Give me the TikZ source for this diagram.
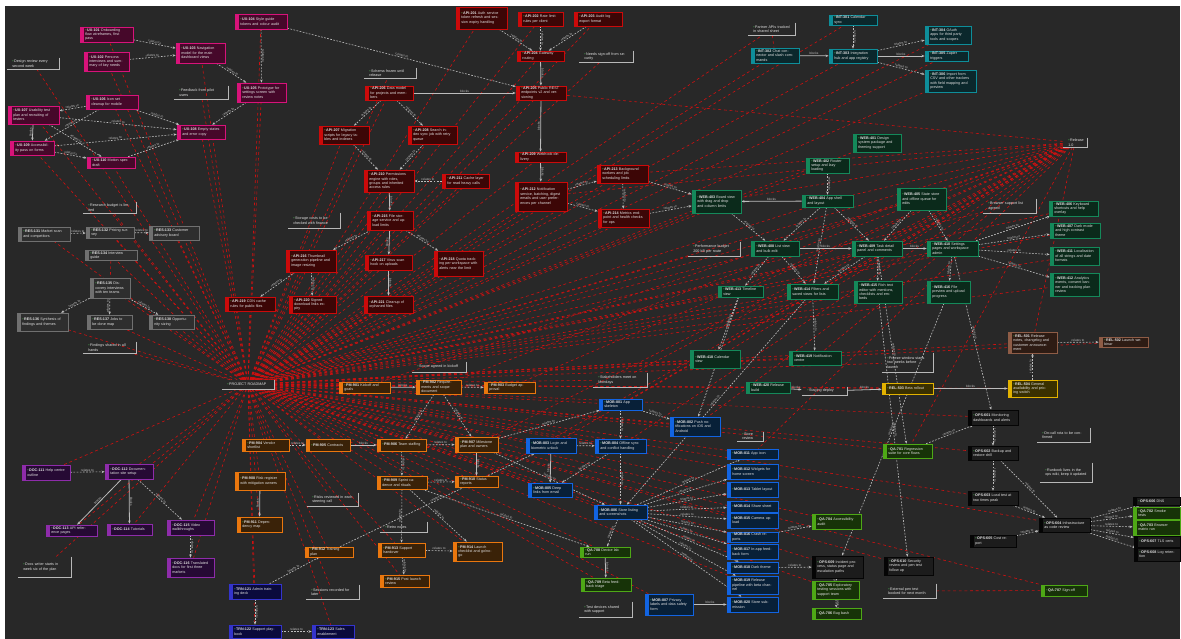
\documentclass[tikz,border=0pt]{standalone}
\usepackage{fontspec}
\setmainfont{Liberation Sans}
\usetikzlibrary{arrows.meta}

\definecolor{canvas}{HTML}{282828}
\definecolor{txt}{HTML}{E2E2E2}
\definecolor{chk}{HTML}{4CAF50}
\definecolor{memoline}{HTML}{B8B8B8}
\definecolor{wire}{HTML}{BDBDBD}
\definecolor{relred}{HTML}{D01010}
\definecolor{pinkline}{HTML}{D8137A}   \definecolor{pinkfill}{HTML}{46082A}
\definecolor{redline}{HTML}{CC0A0A}    \definecolor{redfill}{HTML}{3C0606}
\definecolor{tealline}{HTML}{0E8E9A}   \definecolor{tealfill}{HTML}{0B282C}
\definecolor{greenline}{HTML}{14895A}  \definecolor{greenfill}{HTML}{0B2A1B}
\definecolor{grayline}{HTML}{707070}   \definecolor{grayfill}{HTML}{2E2E2E}
\definecolor{orangeline}{HTML}{EA770E} \definecolor{orangefill}{HTML}{3A2208}
\definecolor{blueline}{HTML}{1264E2}   \definecolor{bluefill}{HTML}{082038}
\definecolor{purpleline}{HTML}{8E2CAA} \definecolor{purplefill}{HTML}{260A34}
\definecolor{navyline}{HTML}{3434CC}   \definecolor{navyfill}{HTML}{0A0A3C}
\definecolor{limeline}{HTML}{4EA816}   \definecolor{limefill}{HTML}{173308}
\definecolor{blackline}{HTML}{050505}  \definecolor{blackfill}{HTML}{1C1C1C}
\definecolor{brownline}{HTML}{8E5C46}  \definecolor{brownfill}{HTML}{2E1C14}
\definecolor{yellowline}{HTML}{E2B200} \definecolor{yellowfill}{HTML}{3A3000}

\pgfdeclarelayer{back}
\pgfdeclarelayer{wires}
\pgfsetlayers{back,wires,main}

\tikzset{
  tiny/.style={font=\fontsize{2.1}{2.5}\selectfont, text=txt, align=left, inner xsep=1.5pt, inner ysep=0.6pt},
  card/.style={tiny, draw=#1line, fill=#1fill, line width=0.35pt,
    path picture={\fill[#1line] (path picture bounding box.north west) rectangle ([xshift=2.2pt]path picture bounding box.south west);}},
  memo/.style={tiny},
  rel/.style={draw=relred, dash pattern=on 1.6pt off 1.6pt, line width=0.35pt},
  lnk/.style={draw=wire, dash pattern=on 1pt off 0.8pt, line width=0.35pt, -{Stealth[length=1.8pt,width=1.4pt]}},
  lnkfull/.style={draw=wire, line width=0.45pt, -{Stealth[length=1.8pt,width=1.4pt]}},
  lbl/.style={font=\fontsize{1.8}{2}\selectfont, text=wire, sloped, midway, above=0pt, inner sep=0.3pt}
}

\newcommand{\chk}{\textcolor{chk}{\textbullet}\,}
% box from corner (x1,y1) to (x2,y2), in pixels of the sketch
\newcommand{\tbox}[7]{%
  \pgfmathsetmacro{\boxw}{(#5-#3)*0.02}%
  \pgfmathsetmacro{\boxh}{(#6-#4)*0.02}%
  \pgfmathsetmacro{\boxtw}{(#5-#3)*0.569-6}%
  \node[#2, minimum width=\boxw cm, minimum height=\boxh cm, text width=\boxtw pt] (#1) at ({(#3+#5)/2},{(#4+#6)/2}) {\chk #7};}
\newcommand{\tnote}[6]{\tbox{#1}{memo}{#2}{#3}{#4}{#5}{#6}%
  \draw[memoline, line width=0.5pt] (#1.north east) -- (#1.south east) -- (#1.south west);}

\begin{document}
\begin{tikzpicture}[x=0.02cm, y=-0.02cm]
\begin{pgfonlayer}{back}
  \fill[white] (0,0) rectangle (1181,639);
  \fill[canvas] (5,6) rectangle (1180,639);
\end{pgfonlayer}
\useasboundingbox (0,0) rectangle (1181,639);

% design cluster
\tbox{P1}{card=pink}{80}{27}{133}{42}{\textbf{UX-101} Onboarding flow wireframes, first pass}
\tbox{P2}{card=pink}{84}{52}{129}{71}{\textbf{UX-102} Persona interviews and summary of key needs}
\tbox{P3}{card=pink}{176}{43}{225}{63}{\textbf{UX-103} Navigation model for the main dashboard views}
\tbox{P4}{card=pink}{235}{14}{287}{29}{\textbf{UX-104} Style guide tokens and colour audit}
\tbox{P5}{card=pink}{237}{83}{286}{102}{\textbf{UX-105} Prototype for settings screen with review notes}
\tbox{P6}{card=pink}{86}{95}{138}{109}{\textbf{UX-106} Icon set cleanup for mobile}
\tbox{P7}{card=pink}{8}{106}{59}{124}{\textbf{UX-107} Usability test plan and recruiting of testers}
\tbox{P8}{card=pink}{177}{125}{225}{139}{\textbf{UX-108} Empty states and error copy}
\tbox{P9}{card=pink}{10}{141}{54}{155}{\textbf{UX-109} Accessibility pass on forms}
\tbox{P10}{card=pink}{87}{157}{135}{168}{\textbf{UX-110} Motion spec draft}
\tnote{N1}{7}{58}{59}{69}{Design review every second week}
\tnote{N2}{174}{86}{228}{99}{Feedback from pilot users}

% backend cluster
\tbox{R1}{card=red}{456}{7}{507}{29}{\textbf{API-201} Auth service token refresh and session expiry handling}
\tbox{R2}{card=red}{518}{12}{563}{26}{\textbf{API-202} Rate limit rules per client}
\tbox{R3}{card=red}{574}{12}{622}{26}{\textbf{API-203} Audit log export format}
\tbox{R4}{card=red}{517}{51}{564}{61}{\textbf{API-204} Gateway routing}
\tnote{N3}{579}{51}{633}{62}{Needs sign-off from security}
\tbox{R5}{card=red}{516}{86}{566}{100}{\textbf{API-205} Public REST endpoints v2 and versioning}
\tnote{N4}{364}{68}{416}{78}{Schema frozen until release}
\tbox{R6}{card=red}{365}{86}{413}{100}{\textbf{API-206} Data model for projects and members}
\tbox{R7}{card=red}{319}{126}{369}{144}{\textbf{API-207} Migration scripts for legacy tables and indexes}
\tbox{R8}{card=red}{408}{126}{457}{144}{\textbf{API-208} Search index sync job with retry queue}
\tbox{R9}{card=red}{515}{152}{566}{162}{\textbf{API-209} Webhook delivery}
\tbox{R10}{card=red}{364}{170}{414}{192}{\textbf{API-210} Permissions engine with roles, groups and inherited access rules}
\tbox{R11}{card=red}{442}{174}{489}{188}{\textbf{API-211} Cache layer for read heavy calls}
\tbox{R12}{card=red}{515}{182}{567}{211}{\textbf{API-212} Notification service, batching, digest emails and user preferences per channel}
\tbox{R13}{card=red}{597}{165}{648}{183}{\textbf{API-213} Background workers and job scheduling limits}
\tbox{R14}{card=red}{598}{209}{649}{227}{\textbf{API-214} Metrics endpoint and health checks for ops}
\tbox{R15}{card=red}{367}{211}{413}{230}{\textbf{API-215} File storage service and upload limits}
\tnote{N5}{288}{213}{340}{228}{Storage costs to be checked with finance}
\tbox{R16}{card=red}{286}{250}{336}{272}{\textbf{API-216} Thumbnail generation pipeline and image resizing}
\tbox{R17}{card=red}{365}{255}{412}{270}{\textbf{API-217} Virus scan hook on uploads}
\tbox{R18}{card=red}{434}{251}{483}{276}{\textbf{API-218} Quota tracking per workspace with alerts near the limit}
\tbox{R19}{card=red}{225}{297}{275}{311}{\textbf{API-219} CDN cache rules for public files}
\tbox{R20}{card=red}{289}{296}{336}{313}{\textbf{API-220} Signed download links expiry}
\tbox{R21}{card=red}{364}{296}{413}{313}{\textbf{API-221} Cleanup of orphaned files}

% integration cluster
\tnote{N6}{748}{23}{795}{35}{Partner APIs tracked in shared sheet}
\tbox{T1}{card=teal}{829}{15}{877}{25}{\textbf{INT-301} Calendar sync}
\tbox{T2}{card=teal}{751}{48}{799}{63}{\textbf{INT-302} Chat connector and slash commands}
\tbox{T3}{card=teal}{829}{49}{877}{63}{\textbf{INT-303} Integration hub and app registry}
\tbox{T4}{card=teal}{925}{26}{971}{44}{\textbf{INT-304} OAuth apps for third party tools and scopes}
\tbox{T5}{card=teal}{925}{52}{968}{60}{\textbf{INT-305} Zapier triggers}
\tbox{T6}{card=teal}{925}{70}{976}{92}{\textbf{INT-306} Import from CSV and other trackers with field mapping and preview}

% frontend cluster
\tbox{G1}{card=green}{853}{134}{901}{152}{\textbf{WEB-401} Design system package and theming support}
\tbox{G2}{card=green}{806}{158}{849}{173}{\textbf{WEB-402} Router setup and lazy loading}
\tbox{G3}{card=green}{692}{190}{741}{213}{\textbf{WEB-403} Board view with drag and drop and column limits}
\tbox{G4}{card=green}{802}{195}{853}{207}{\textbf{WEB-404} App shell and layout}
\tbox{G5}{card=green}{897}{188}{946}{210}{\textbf{WEB-405} State store and offline queue for edits}
\tnote{N7}{983}{199}{1036}{213}{Browser support list agreed}
\tbox{G6}{card=green}{1049}{201}{1098}{216}{\textbf{WEB-406} Keyboard shortcuts and help overlay}
\tbox{G7}{card=green}{1050}{223}{1100}{238}{\textbf{WEB-407} Dark mode and high contrast theme}
\tnote{N8}{688}{242}{740}{256}{Performance budget 200 kB per route}
\tbox{G8}{card=green}{751}{241}{799}{256}{\textbf{WEB-408} List view and bulk edit}
\tbox{G9}{card=green}{852}{241}{902}{256}{\textbf{WEB-409} Task detail panel and comments}
\tbox{G10}{card=green}{927}{241}{978}{256}{\textbf{WEB-410} Settings pages and workspace admin}
\tbox{G11}{card=green}{1050}{247}{1099}{265}{\textbf{WEB-411} Localisation of all strings and date formats}
\tbox{G12}{card=green}{1050}{273}{1099}{296}{\textbf{WEB-412} Analytics events, consent banner and tracking plan review}
\tbox{G13}{card=green}{718}{286}{763}{297}{\textbf{WEB-413} Timeline view}
\tbox{G14}{card=green}{787}{284}{838}{299}{\textbf{WEB-414} Filters and saved views for lists}
\tbox{G15}{card=green}{854}{281}{902}{303}{\textbf{WEB-415} Rich text editor with mentions, checklists and embeds}
\tbox{G16}{card=green}{927}{281}{970}{303}{\textbf{WEB-416} File preview and upload progress}
\tbox{G18}{card=green}{690}{350}{740}{368}{\textbf{WEB-418} Calendar view}
\tbox{G19}{card=green}{789}{351}{841}{365}{\textbf{WEB-419} Notification centre}
\tbox{G20}{card=green}{746}{382}{790}{393}{\textbf{WEB-420} Release build}
\tnote{HB2}{1063}{139}{1087}{146}{Release 1.0}

% release cluster
\tbox{B1}{card=brown}{1008}{332}{1057}{353}{\textbf{REL-501} Release notes, changelog and customer announcement}
\tbox{B2}{card=brown}{1099}{337}{1148}{347}{\textbf{REL-502} Launch webinar}
\tnote{N9}{882}{353}{933}{372}{Freeze window starts two weeks before launch}
\tnote{N10}{802}{387}{847}{395}{Staging deploy}
\tbox{Y1}{card=yellow}{882}{383}{933}{394}{\textbf{REL-503} Beta rollout}
\tbox{Y2}{card=yellow}{1008}{380}{1057}{397}{\textbf{REL-504} General availability and pricing switch}
\tbox{K1}{card=black}{968}{410}{1018}{425}{\textbf{OPS-601} Monitoring dashboards and alerts}
\tnote{N11}{1037}{428}{1090}{442}{On-call rota to be confirmed}
\tbox{K2}{card=black}{968}{446}{1018}{460}{\textbf{OPS-602} Backup and restore drill}
\tnote{N12}{1040}{463}{1092}{482}{Runbook lives in the ops wiki, keep it updated}
\tbox{L1}{card=lime}{883}{444}{932}{458}{\textbf{QA-701} Regression suite for core flows}
\tbox{K3}{card=black}{968}{491}{1018}{505}{\textbf{OPS-603} Load test at two times peak}
\tbox{K4}{card=black}{1039}{518}{1090}{532}{\textbf{OPS-604} Infrastructure as code review}
\tbox{K5}{card=black}{970}{535}{1016}{547}{\textbf{OPS-605} Cost report}
\tbox{K6}{card=black}{1133}{497}{1180}{505}{\textbf{OPS-606} DNS}
\tbox{L2}{card=lime}{1133}{507}{1180}{519}{\textbf{QA-702} Smoke tests}
\tbox{L3}{card=lime}{1133}{520}{1180}{535}{\textbf{QA-703} Browser matrix run}
\tbox{K7}{card=black}{1134}{536}{1180}{547}{\textbf{OPS-607} TLS certs}
\tbox{K8}{card=black}{1134}{548}{1180}{561}{\textbf{OPS-608} Log retention}
\tbox{L4}{card=lime}{812}{514}{861}{529}{\textbf{QA-704} Accessibility audit}
\tbox{K9}{card=black}{812}{556}{863}{578}{\textbf{OPS-609} Incident process, status page and escalation paths}
\tbox{L5}{card=lime}{812}{581}{859}{599}{\textbf{QA-705} Exploratory testing sessions with support team}
\tbox{L6}{card=lime}{812}{608}{861}{619}{\textbf{QA-706} Bug bash}
\tbox{K10}{card=black}{884}{557}{933}{575}{\textbf{OPS-610} Security review and pen test follow up}
\tnote{N13}{883}{584}{936}{598}{External pen test booked for next month}
\tbox{L7}{card=lime}{1041}{585}{1087}{596}{\textbf{QA-707} Sign-off}

% mobile cluster
\tbox{BL1}{card=blue}{599}{399}{642}{410}{\textbf{MOB-801} App skeleton}
\tbox{BL2}{card=blue}{670}{417}{720}{436}{\textbf{MOB-802} Push notifications on iOS and Android}
\tbox{BL3}{card=blue}{526}{438}{576}{453}{\textbf{MOB-803} Login and biometric unlock}
\tbox{BL4}{card=blue}{595}{439}{646}{453}{\textbf{MOB-804} Offline sync and conflict handling}
\tbox{BL5}{card=blue}{528}{483}{572}{497}{\textbf{MOB-805} Deep links from email}
\tbox{BL6}{card=blue}{594}{505}{647}{519}{\textbf{MOB-806} Store listing and screenshots}
\tnote{N14}{737}{433}{763}{440}{Store review}
\tbox{S1}{card=blue}{727}{449}{778}{459}{\textbf{MOB-811} App icon}
\tbox{S2}{card=blue}{727}{464}{778}{479}{\textbf{MOB-812} Widgets for home screen}
\tbox{S3}{card=blue}{727}{482}{778}{497}{\textbf{MOB-813} Tablet layout}
\tbox{S4}{card=blue}{727}{501}{778}{512}{\textbf{MOB-814} Share sheet}
\tbox{S5}{card=blue}{727}{513}{778}{528}{\textbf{MOB-815} Camera upload}
\tbox{S6}{card=blue}{727}{532}{778}{542}{\textbf{MOB-816} Crash reports}
\tbox{S7}{card=blue}{727}{544}{778}{559}{\textbf{MOB-817} In-app feedback form}
\tbox{S8}{card=blue}{727}{562}{778}{573}{\textbf{MOB-818} Dark theme}
\tbox{S9}{card=blue}{727}{576}{778}{594}{\textbf{MOB-819} Release pipeline with beta channel}
\tbox{S10}{card=blue}{727}{597}{778}{612}{\textbf{MOB-820} Store submission}
\tbox{BL7}{card=blue}{645}{594}{693}{615}{\textbf{MOB-807} Privacy labels and data safety form}
\tbox{L8}{card=lime}{580}{547}{630}{557}{\textbf{QA-708} Device lab run}
\tbox{L9}{card=lime}{581}{578}{631}{591}{\textbf{QA-709} Beta feedback triage}
\tnote{N15}{579}{602}{632}{617}{Test devices shared with support}

% planning cluster
\tnote{H}{222}{380}{274}{389}{PROJECT ROADMAP}
\tnote{N16}{412}{362}{466}{372}{Scope agreed in kickoff}
\tbox{O1}{card=orange}{339}{382}{390}{393}{\textbf{PM-901} Kickoff and goals}
\tbox{O2}{card=orange}{416}{380}{461}{394}{\textbf{PM-902} Requirements and scope document}
\tbox{O3}{card=orange}{484}{382}{535}{393}{\textbf{PM-903} Budget approval}
\tnote{N17}{593}{373}{647}{387}{Stakeholders meet on Mondays}
\tbox{O4}{card=orange}{242}{439}{289}{451}{\textbf{PM-904} Vendor shortlist}
\tbox{O5}{card=orange}{306}{439}{350}{451}{\textbf{PM-905} Contracts}
\tbox{O6}{card=orange}{377}{439}{426}{451}{\textbf{PM-906} Team staffing}
\tbox{O7}{card=orange}{455}{437}{498}{452}{\textbf{PM-907} Milestone plan and owners}
\tbox{O8}{card=orange}{235}{472}{285}{490}{\textbf{PM-908} Risk register with mitigation owners}
\tbox{O9}{card=orange}{377}{476}{427}{489}{\textbf{PM-909} Sprint cadence and rituals}
\tbox{O10}{card=orange}{455}{476}{498}{487}{\textbf{PM-910} Status reports}
\tnote{N18}{307}{493}{358}{506}{Risks reviewed in each steering call}
\tbox{O11}{card=orange}{237}{517}{282}{532}{\textbf{PM-911} Dependency map}
\tnote{N19}{380}{522}{427}{532}{Retro notes}
\tbox{O12}{card=orange}{305}{547}{353}{557}{\textbf{PM-912} Training plan}
\tbox{O13}{card=orange}{378}{543}{425}{557}{\textbf{PM-913} Support handover}
\tbox{O14}{card=orange}{453}{542}{502}{561}{\textbf{PM-914} Launch checklist and go/no-go}
\tbox{O15}{card=orange}{380}{575}{429}{587}{\textbf{PM-915} Post launch review}

% content cluster
\tbox{PU1}{card=purple}{22}{465}{70}{480}{\textbf{DOC-111} Help centre outline}
\tbox{PU2}{card=purple}{105}{464}{153}{479}{\textbf{DOC-112} Documentation site setup}
\tbox{PU3}{card=purple}{46}{525}{97}{536}{\textbf{DOC-113} API reference pages}
\tbox{PU4}{card=purple}{107}{524}{152}{535}{\textbf{DOC-114} Tutorials}
\tbox{PU5}{card=purple}{167}{520}{214}{535}{\textbf{DOC-115} Video walkthroughs}
\tbox{PU6}{card=purple}{167}{558}{214}{577}{\textbf{DOC-116} Translated docs for first three markets}
\tnote{N20}{18}{557}{71}{577}{Docs writer starts in week six of the plan}

% training cluster
\tbox{NV1}{card=navy}{229}{584}{281}{599}{\textbf{TRN-121} Admin training deck}
\tbox{NV2}{card=navy}{229}{625}{281}{638}{\textbf{TRN-122} Support playbook}
\tbox{NV3}{card=navy}{312}{625}{354}{638}{\textbf{TRN-123} Sales enablement}
\tnote{N21}{306}{585}{359}{599}{Sessions recorded for later}

% research cluster
\tnote{N22}{83}{202}{136}{213}{Research budget is limited}
\tbox{GR1}{card=gray}{18}{227}{70}{241}{\textbf{RES-131} Market scan and competitors}
\tbox{GR2}{card=gray}{86}{227}{134}{238}{\textbf{RES-132} Pricing survey}
\tbox{GR3}{card=gray}{149}{226}{199}{240}{\textbf{RES-133} Customer advisory board}
\tbox{GR4}{card=gray}{85}{252}{137}{259}{\textbf{RES-134} Interview guide}
\tbox{GR5}{card=gray}{90}{278}{130}{298}{\textbf{RES-135} Discovery interviews with ten teams}
\tbox{GR6}{card=gray}{17}{313}{68}{331}{\textbf{RES-136} Synthesis of findings and themes}
\tbox{GR7}{card=gray}{87}{315}{132}{329}{\textbf{RES-137} Jobs to be done map}
\tbox{GR8}{card=gray}{149}{315}{194}{329}{\textbf{RES-138} Opportunity sizing}
\tnote{N23}{83}{342}{136}{353}{Findings shared in all hands}

\begin{pgfonlayer}{wires}
% relations to the roadmap
\foreach \n in {P1,P2,P3,P4,P5,P6,P7,P8,P9,P10,N1,N2,R1,R2,R3,R4,N3,R5,N4,R6,R7,R8,R9,R10,R11,R12,R13,R14,R15,N5,R16,R17,R18,R19,R20,R21,
  N6,T1,T2,T3,T4,T5,T6,G1,G2,G3,G4,G5,N7,G6,G7,N8,G8,G9,G10,G11,G12,G13,G14,G15,G16,G18,G19,G20,HB2,
  B1,B2,N9,Y1,Y2,K1,K2,L1,K3,K4,L4,K9,L5,K10,L7,BL1,BL2,BL3,BL4,BL5,BL6,S1,S3,S5,S7,S9,BL7,L8,L9,
  O1,O2,O3,N17,O4,O5,O6,O7,O8,O9,O10,N18,O11,O12,O13,O14,O15,PU1,PU2,PU3,PU4,PU5,PU6,N20,NV1,NV2,NV3,N21,
  N22,GR1,GR2,GR3,GR4,GR5,GR6,GR7,GR8,N23}
  \draw[rel] (H) -- (\n);
\foreach \n in {O1,O2,O3,O7,BL1,BL2,BL4,G3,G8,G9,G4,R12,R13,G18,G19,L1,S1,R5,G13,N17,O10,BL3}
  \draw[rel] (HB2) -- (\n);
\draw[rel] (HB2) -- (B1);
\draw[rel] (N6) -- (T2);
\draw[rel] (GR4) -- (GR5);
\draw[rel] (N13) -- (L7);

% dependencies
\foreach \a/\b in {P1/P3,P2/P3,P3/P5,P4/P5,P6/P7,P6/P8,P7/P8,P7/P10,P9/P8,P9/P10,P10/P8,P5/P8,P6/P9,P4/R5,
  R1/R4,R2/R4,R3/R4,R6/R7,R6/R8,R7/R10,R8/R10,R11/R10,R12/R13,R12/R14,R13/R14,R15/R16,R15/R18,R16/R19,R16/R20,R13/G3,R14/G3,
  T1/T3,T3/T4,T3/T6,
  G2/G4,G4/G8,G4/G9,G3/G8,G5/G9,G5/G10,G10/G6,G10/G7,G10/G11,G10/G12,G8/G13,G8/G14,G9/G14,G9/G15,G10/G16,G4/G14,
  G14/G19,G14/BL6,G15/K10,G16/K9,G9/L1,G10/K1,
  Y2/B1,B1/B2,L1/K1,K1/K2,K2/K3,K2/K4,K3/K4,K5/K4,K4/K6,K4/L2,K4/L3,K4/K7,K4/K8,S6/L4,S8/K9,K9/L5,L5/L6,
  BL1/BL2,BL1/BL4,BL3/BL4,BL4/BL5,BL4/BL6,BL6/S1,BL6/S2,BL6/S3,BL6/S4,BL6/S5,BL6/S6,BL6/S7,BL6/S8,BL6/S9,BL6/S10,BL6/L8,
  O7/BL1,O7/BL6,O9/L8,
  O2/O3,O2/O6,O2/O7,O4/O5,O6/O7,O6/O9,O9/O10,O9/O13,O9/O14,O13/O14,O13/O15,NV1/O12,O12/BL3,
  PU1/PU2,PU2/PU5,PU5/PU6,NV1/NV2,NV2/NV3,
  GR1/GR2,GR2/GR3,GR5/GR6,GR5/GR7,GR5/GR8}
  \draw[lnk] (\a) -- (\b) node[lbl] {relates to};
\draw[lnk] (G13) -- (G18);
\draw[lnk] (G13) -- (BL2) node[lbl, pos=0.2] {relates to};
\foreach \a/\b in {P7/P9,R4/R5,R6/R5,R10/R15,R5/R9,R9/R12,R17/R21,T2/T3,T3/T5,G4/G3,G8/G9,G9/G10,
  G20/N10,N10/Y1,Y1/Y2,BL3/BL5,L8/L9,BL7/S10,O1/O2,O5/O6,O7/O10,O8/O11,PU2/PU3,PU2/PU4,R15/R17}
  \draw[lnkfull] (\a) -- (\b) node[lbl] {blocks};
\end{pgfonlayer}
\end{tikzpicture}
\end{document}
